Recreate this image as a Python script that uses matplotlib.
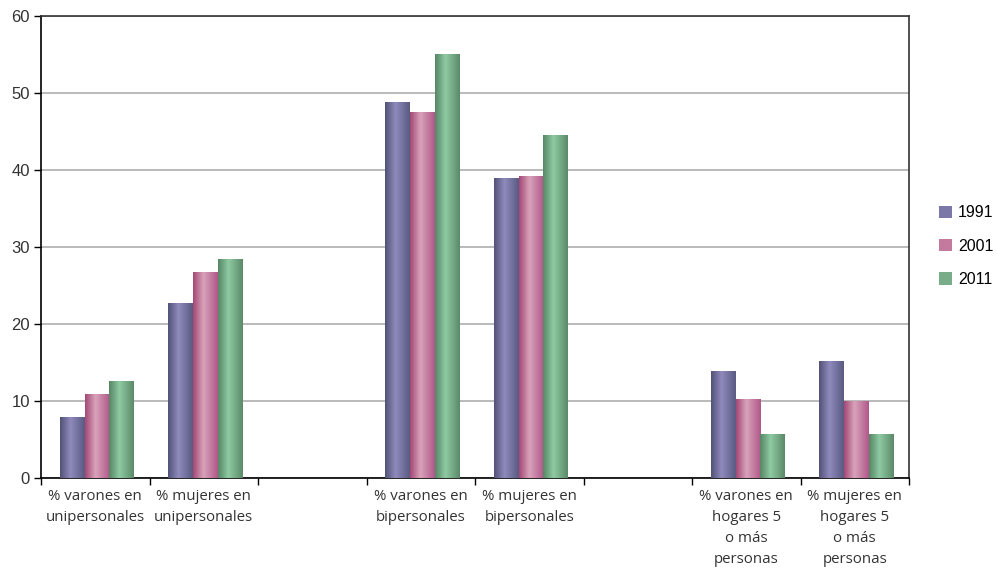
import matplotlib.pyplot as plt
import numpy as np
from matplotlib.colors import LinearSegmentedColormap
from matplotlib.patches import Patch

"""
Hogares: % varones / mujeres por tamaño de hogar, 1991-2001-2011
"""
categories = ["% varones en\nunipersonales", "% mujeres en\nunipersonales", "",
              "% varones en\nbipersonales", "% mujeres en\nbipersonales", "",
              "% varones en\nhogares 5\no más\npersonas",
              "% mujeres en\nhogares 5\no más\npersonas"]
years = ["1991", "2001", "2011"]
v1991 = [7.9, 22.7, np.nan, 48.8, 38.9, np.nan, 13.9, 15.2]
v2001 = [10.9, 26.7, np.nan, 47.5, 39.2, np.nan, 10.2, 10.0]
v2011 = [12.6, 28.4, np.nan, 55.1, 44.5, np.nan, 5.7, 5.7]

# dark edge / light center / dark edge for the shaded bars
shades = [["#525278", "#8f8bbd", "#5a5a82"],
          ["#a44876", "#d9a3ba", "#b0588a"],
          ["#578766", "#8ecaa2", "#5c8a69"]]
mid_colors = ["#7b78a8", "#c47a9c", "#79ac88"]

fig = plt.figure(figsize=(9.97, 5.75), dpi=100)
ax = fig.add_axes([41/997, 1-478/575, (909-41)/997, (478-16)/575])

x = np.arange(len(categories))
w = 0.228
grad = np.linspace(0, 1, 64).reshape(1, -1)
for k, vals in enumerate([v1991, v2001, v2011]):
    cmap = LinearSegmentedColormap.from_list("g%d" % k,
                                             [(0, shades[k][0]), (0.42, shades[k][1]), (1, shades[k][2])])
    bars = ax.bar(x + (k-1)*w + 0.016, vals, width=w, color=mid_colors[k], linewidth=0, zorder=2)
    for b in bars:
        h = b.get_height()
        if np.isnan(h) or h == 0:
            continue
        x0 = b.get_x()
        im = ax.imshow(grad, extent=[x0, x0 + b.get_width(), 0, h], aspect='auto',
                       cmap=cmap, zorder=3, interpolation='bilinear')
        im.set_clip_path(b)

ax.set_xlim(-0.5, len(categories) - 0.5)
ax.set_ylim(0, 60)
ax.set_yticks(np.arange(0, 61, 10))
ax.yaxis.grid(True, color="#b4b4b4", linewidth=1.3, zorder=0)
ax.set_axisbelow(True)

ax.set_xticks(x)
ax.set_xticklabels(categories, fontsize=10.8, family="Open Sans", color="#333333", linespacing=1.55)
ax.set_xticks(np.arange(-0.5, len(categories), 1), minor=True)
ax.tick_params(axis='x', which='major', length=0, pad=8)
ax.tick_params(axis='x', which='minor', length=5, direction='out', width=1)
ax.tick_params(axis='y', length=5, direction='out', width=1, labelsize=12, labelcolor="#333333", pad=3)
for t in ax.get_yticklabels():
    t.set_family("Liberation Sans")

for s in ["left", "bottom"]:
    ax.spines[s].set_color("black")
    ax.spines[s].set_linewidth(1.2)
for s in ["top", "right"]:
    ax.spines[s].set_color("#333333")
    ax.spines[s].set_linewidth(1.2)

handles = [Patch(facecolor=c, edgecolor='none') for c in mid_colors]
fig.legend(handles, years, loc="center", bbox_to_anchor=(0.969, 0.572), frameon=False,
           handlelength=0.8, handleheight=0.8, handletextpad=0.4, labelspacing=1.15,
           prop={"family": "Liberation Sans", "size": 11.5})

fig.savefig("out.png", dpi=100)
